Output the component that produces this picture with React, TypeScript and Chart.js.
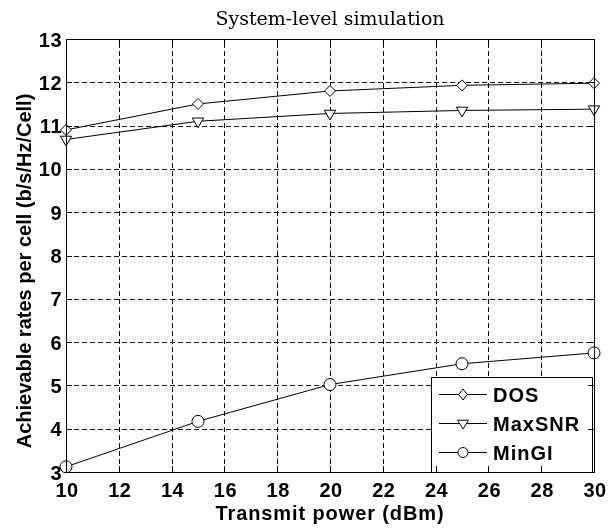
import React, { useEffect, useRef } from "react";
import { Chart, registerables } from "chart.js";

Chart.register(...registerables);

const powers = [10, 15, 20, 25, 30];
const dosRates = [10.9, 11.5, 11.8, 11.93, 11.98];
const maxSnrRates = [10.68, 11.1, 11.28, 11.35, 11.38];
const minGiRates = [3.12, 4.17, 5.02, 5.5, 5.75];
const seriesNames = ["DOS", "MaxSNR", "MinGI"];
const titleText = "System-level simulation";
const xTitle = "Transmit power (dBm)";
const yTitle = "Achievable rates per cell (b/s/Hz/Cell)";

const LEFT = 66;
const TOP = 39;
const RIGHT_PAD = 14;
const BOTTOM_H = 57;

const SANS = "'Liberation Sans', Arial, sans-serif";

function drawMarker(ctx: CanvasRenderingContext2D, style: string, r: number, x: number, y: number) {
  ctx.save();
  ctx.translate(x, y);
  ctx.beginPath();
  if (style === "circle") {
    ctx.arc(0, 0, r, 0, Math.PI * 2);
  } else if (style === "diamond") {
    ctx.moveTo(0, -r * 1.1);
    ctx.lineTo(r * 0.85, 0);
    ctx.lineTo(0, r * 1.1);
    ctx.lineTo(-r * 0.85, 0);
    ctx.closePath();
  } else {
    ctx.moveTo(-r, -r * 0.6);
    ctx.lineTo(r, -r * 0.6);
    ctx.lineTo(0, r * 1.0);
    ctx.closePath();
  }
  ctx.fillStyle = "#fff";
  ctx.fill();
  ctx.strokeStyle = "#000";
  ctx.lineWidth = 1;
  ctx.setLineDash([]);
  ctx.stroke();
  ctx.restore();
}

const gridPlugin = {
  id: "dashgrid",
  beforeDatasetsDraw(chart: any) {
    const { ctx, chartArea: a, scales } = chart;
    ctx.save();
    ctx.strokeStyle = "#111";
    ctx.lineWidth = 1;
    ctx.setLineDash([5, 3]);
    scales.x.ticks.forEach((t: any) => {
      const px = Math.round(scales.x.getPixelForValue(t.value)) + 0.5;
      ctx.beginPath();
      ctx.moveTo(px, a.bottom);
      ctx.lineTo(px, a.top);
      ctx.stroke();
    });
    scales.y.ticks.forEach((t: any) => {
      const py = Math.round(scales.y.getPixelForValue(t.value)) + 0.5;
      ctx.beginPath();
      ctx.moveTo(a.left, py);
      ctx.lineTo(a.right, py);
      ctx.stroke();
    });
    ctx.restore();
  },
};

const framePlugin = {
  id: "frame",
  afterDraw(chart: any) {
    const { ctx, chartArea: a, scales } = chart;
    ctx.save();
    // legend box
    const bx = 431;
    const bw = a.right - 2 - bx;
    const by = 377;
    const bh = a.bottom - by;
    ctx.setLineDash([]);
    ctx.fillStyle = "#fff";
    ctx.fillRect(bx, by, bw, bh);
    ctx.strokeStyle = "#000";
    ctx.lineWidth = 1;
    ctx.strokeRect(bx + 0.5, by + 0.5, bw, bh);

    // frame
    ctx.strokeRect(Math.round(a.left) + 0.5, Math.round(a.top) + 0.5, Math.round(a.right - a.left), Math.round(a.bottom - a.top));

    // inward ticks
    const tl = 6;
    scales.x.ticks.forEach((t: any) => {
      const px = Math.round(scales.x.getPixelForValue(t.value)) + 0.5;
      ctx.beginPath();
      ctx.moveTo(px, a.bottom);
      ctx.lineTo(px, a.bottom - tl);
      ctx.moveTo(px, a.top);
      ctx.lineTo(px, a.top + tl);
      ctx.stroke();
    });
    scales.y.ticks.forEach((t: any) => {
      const py = Math.round(scales.y.getPixelForValue(t.value)) + 0.5;
      ctx.beginPath();
      ctx.moveTo(a.left, py);
      ctx.lineTo(a.left + tl, py);
      ctx.moveTo(a.right, py);
      ctx.lineTo(a.right - tl, py);
      ctx.stroke();
    });

    // legend entries
    const styles = ["diamond", "triangle", "circle"];
    const rads = [5, 5.5, 5];
    ctx.font = `bold 20px ${SANS}`;
    (ctx as any).letterSpacing = "1px";
    ctx.textBaseline = "alphabetic";
    ctx.textAlign = "left";
    seriesNames.forEach((name, i) => {
      const y = 394 + i * 29;
      ctx.strokeStyle = "#000";
      ctx.beginPath();
      ctx.moveTo(bx + 8, y + 0.5);
      ctx.lineTo(bx + 56, y + 0.5);
      ctx.stroke();
      drawMarker(ctx, styles[i], rads[i], bx + 32, y + 0.5);
      ctx.fillStyle = "#000";
      ctx.fillText(name, bx + 62, y + 7.5);
    });

    // tick labels
    ctx.font = `bold 20px ${SANS}`;
    (ctx as any).letterSpacing = "0.5px";
    ctx.fillStyle = "#000";
    ctx.textAlign = "center";
    scales.x.ticks.forEach((t: any) => {
      const px = scales.x.getPixelForValue(t.value);
      ctx.fillText(String(t.value), px + 1, 497);
    });
    ctx.textAlign = "right";
    scales.y.ticks.forEach((t: any) => {
      const py = scales.y.getPixelForValue(t.value);
      ctx.fillText(String(t.value), a.left - 4, py + 7.5);
    });

    // axis titles
    (ctx as any).letterSpacing = "0.9px";
    ctx.textAlign = "center";
    ctx.fillText(xTitle, (a.left + a.right) / 2, 520);
    (ctx as any).letterSpacing = "0px";
    ctx.save();
    ctx.translate(31, 271);
    ctx.rotate(-Math.PI / 2);
    ctx.fillText(yTitle, 0, 0);
    ctx.restore();

    // title
    ctx.font = "19px 'DejaVu Serif', serif";
    ctx.textAlign = "center";
    ctx.fillText(titleText, (a.left + a.right) / 2, 25);
    ctx.restore();
  },
};

export default function App() {
  const ref = useRef<HTMLCanvasElement>(null);
  useEffect(() => {
    const mk = (vals: number[]) => vals.map((v, i) => ({ x: powers[i], y: v }));
    const common = {
      borderColor: "#000",
      borderWidth: 1,
      backgroundColor: "#fff",
      pointBackgroundColor: "#fff",
      pointBorderColor: "#000",
      pointBorderWidth: 1,
      tension: 0,
      clip: false as any,
    };
    const chart = new Chart(ref.current!, {
      type: "line",
      data: {
        datasets: [
          { ...common, label: seriesNames[0], data: mk(dosRates), pointStyle: "rectRot", pointRadius: 5.5 },
          { ...common, label: seriesNames[1], data: mk(maxSnrRates), pointStyle: "triangle", pointRotation: 180, pointRadius: 6.5 },
          { ...common, label: seriesNames[2], data: mk(minGiRates), pointStyle: "circle", pointRadius: 6 },
        ],
      },
      options: {
        animation: false,
        responsive: false,
        devicePixelRatio: 1,
        layout: { padding: { top: TOP, right: RIGHT_PAD, left: 0, bottom: 0 } },
        plugins: { legend: { display: false }, tooltip: { enabled: false }, title: { display: false } },
        scales: {
          x: {
            type: "linear",
            min: 10,
            max: 30,
            ticks: { stepSize: 2, display: false },
            grid: { display: false },
            border: { display: false },
            afterFit(s: any) { s.height = BOTTOM_H; },
          },
          y: {
            min: 3,
            max: 13,
            ticks: { stepSize: 1, display: false },
            grid: { display: false },
            border: { display: false },
            afterFit(s: any) { s.width = LEFT; },
          },
        },
      },
      plugins: [gridPlugin, framePlugin],
    });
    return () => chart.destroy();
  }, []);
  return (
    <div style={{ position: "absolute", left: 0, top: 0, width: 608, height: 529, background: "#fff" }}>
      <canvas ref={ref} width={608} height={529} style={{ width: 608, height: 529, display: "block" }} />
    </div>
  );
}
